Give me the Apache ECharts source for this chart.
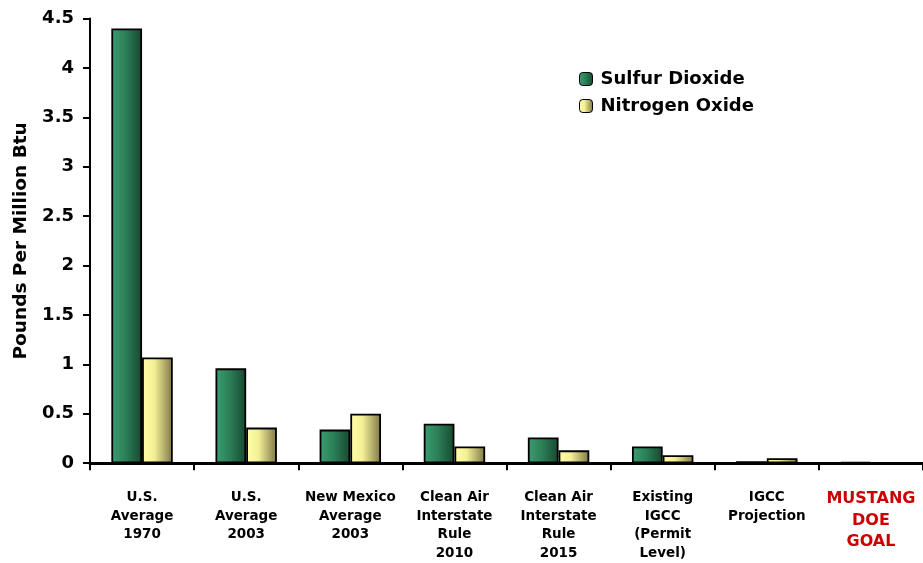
<!DOCTYPE html>
<html><head><meta charset="utf-8">
<script src="https://cdn.jsdelivr.net/npm/echarts@6/dist/echarts.min.js"></script>
<style>html,body{margin:0;padding:0;background:#fff;overflow:hidden}#c{width:923px;height:563px}</style>
</head><body><div id="c"></div>
<script>
var categories = ['U.S.\nAverage\n1970','U.S.\nAverage\n2003','New Mexico\nAverage\n2003','Clean Air\nInterstate\nRule\n2010','Clean Air\nInterstate\nRule\n2015','Existing\nIGCC\n(Permit\nLevel)','IGCC\nProjection','MUSTANG\nDOE\nGOAL'];
var sulfurDioxide = [4.40, 0.96, 0.34, 0.40, 0.26, 0.17, 0.02, 0.012];
var nitrogenOxide = [1.07, 0.36, 0.50, 0.17, 0.13, 0.08, 0.05, 0];
var yTicks = [0, 0.5, 1, 1.5, 2, 2.5, 3, 3.5, 4, 4.5];

var font = '"DejaVu Sans", Verdana, sans-serif';
var greenGrad = new echarts.graphic.LinearGradient(0,0,1,0,[
  {offset:0,color:'#3a9e72'},{offset:0.45,color:'#2b8058'},{offset:1,color:'#174830'}]);
var yellowGrad = new echarts.graphic.LinearGradient(0,0,1,0,[
  {offset:0,color:'#ffffa8'},{offset:0.4,color:'#f3ef95'},{offset:1,color:'#7d7646'}]);

var chart = echarts.init(document.getElementById('c'));
chart.setOption({
  animation:false,
  backgroundColor:'#fff',
  grid:{left:90,right:-6,top:18.5,bottom:97.5},
  legend:{
    orient:'vertical', left:574, top:65, itemWidth:13, itemHeight:13, itemGap:9,
    textStyle:{fontFamily:font,fontWeight:'bold',fontSize:18,color:'#000',padding:[0,0,0,3]},
    data:[{name:'Sulfur Dioxide',itemStyle:{color:greenGrad,borderColor:'#000',borderWidth:1}},
          {name:'Nitrogen Oxide',itemStyle:{color:yellowGrad,borderColor:'#000',borderWidth:1}}]
  },
  xAxis:{
    type:'category', data:categories,
    axisLine:{lineStyle:{color:'#000',width:3}},
    axisTick:{show:true,length:7,lineStyle:{color:'#000',width:2}},
    axisLabel:{interval:0,margin:25,lineHeight:18.7,fontFamily:font,fontWeight:'bold',fontSize:13.5,color:'#000',
      formatter:function(v,i){ return i===7 ? '{r|'+v.split('\n').join('}\n{r|')+'}' : v; },
      rich:{r:{color:'#cc0000',fontSize:16,fontWeight:'bold',fontFamily:font,lineHeight:21.5}}}
  },
  yAxis:{
    type:'value', min:0, max:4.5, interval:0.5,
    name:'Pounds Per Million Btu', nameLocation:'middle', nameGap:59, nameRotate:90,
    nameTextStyle:{fontFamily:font,fontWeight:'bold',fontSize:18.5,color:'#000'},
    axisLine:{show:true,lineStyle:{color:'#000',width:2}},
    axisTick:{show:true,length:7,lineStyle:{color:'#000',width:2}},
    splitLine:{show:false},
    axisLabel:{margin:16,fontFamily:font,fontWeight:'bold',fontSize:18,color:'#000',
      formatter:function(v){ return yTicks.indexOf(v)>=0 ? String(v) : ''; }}
  },
  series:[
    {name:'Sulfur Dioxide',type:'bar',data:sulfurDioxide,barGap:'0%',barCategoryGap:'41%',
     itemStyle:{color:greenGrad,borderColor:'#000',borderWidth:1.8}},
    {name:'Nitrogen Oxide',type:'bar',data:nitrogenOxide,
     itemStyle:{color:yellowGrad,borderColor:'#000',borderWidth:1.8}}
  ]
});
</script></body></html>
